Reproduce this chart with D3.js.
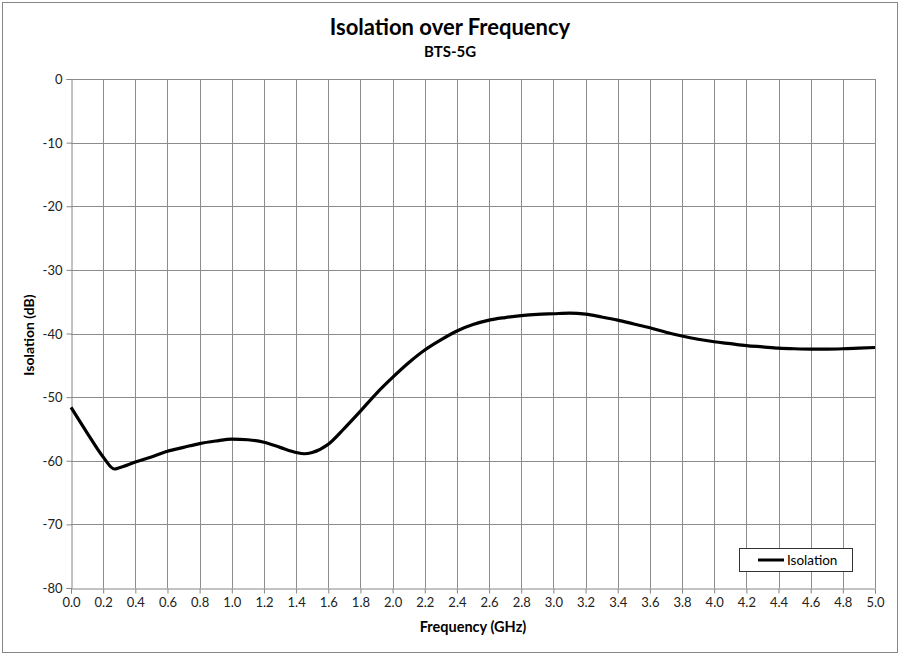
<!DOCTYPE html>
<html>
<head>
<meta charset="utf-8">
<script src="https://cdn.jsdelivr.net/npm/d3@7"></script>
<style>
  body { margin: 0; background: #fff; }
  text { font-family: Lato, "Open Sans", sans-serif; }
</style>
</head>
<body>
<div id="chart"></div>
<script>
"use strict";

// frequency (GHz) and isolation (dB)
const freq = [0.0, 0.1, 0.2, 0.27, 0.3, 0.4, 0.5, 0.6, 0.7, 0.8, 0.9, 1.0, 1.1, 1.2, 1.3, 1.4, 1.45, 1.5, 1.6, 1.7, 1.8, 1.9,
  2.0, 2.1, 2.2, 2.3, 2.4, 2.5, 2.6, 2.7, 2.8, 2.9, 3.0, 3.1, 3.2, 3.3, 3.4, 3.5, 3.6, 3.7, 3.8, 3.9,
  4.0, 4.1, 4.2, 4.3, 4.4, 4.5, 4.6, 4.7, 4.8, 4.9, 5.0];
const isolation = [-51.6, -55.6, -59.4, -61.3, -61.1, -60.2, -59.4, -58.5, -57.9, -57.3, -56.9, -56.6, -56.7, -57.1, -57.9, -58.7, -58.9, -58.7, -57.4, -54.9, -52.2, -49.4,
  -46.9, -44.6, -42.6, -41.0, -39.6, -38.6, -37.9, -37.5, -37.2, -37.0, -36.9, -36.8, -36.95, -37.4, -37.9, -38.5, -39.1, -39.8, -40.4, -40.9,
  -41.3, -41.6, -41.9, -42.1, -42.3, -42.4, -42.45, -42.45, -42.4, -42.3, -42.2];
const xTicks = d3.range(0, 26).map(i => i * 0.2);
const yTicks = [0, -10, -20, -30, -40, -50, -60, -70, -80];

const width = 899, height = 656;
const plot = { left: 71, right: 875, top: 79, bottom: 588 };

const svg = d3.select("#chart").append("svg")
  .attr("width", width)
  .attr("height", height);

// outer frame
svg.append("rect")
  .attr("x", 2.5).attr("y", 2.5)
  .attr("width", 895).attr("height", 650)
  .attr("fill", "#fff")
  .attr("stroke", "#868686");

const x = d3.scaleLinear().domain([0, 5]).range([plot.left, plot.right]);
const y = d3.scaleLinear().domain([-80, 0]).range([plot.bottom, plot.top]);

// grid
svg.append("g")
  .selectAll("line.v")
  .data(xTicks.slice(1))
  .enter().append("line")
  .attr("x1", d => Math.round(x(d)) + 0.5).attr("x2", d => Math.round(x(d)) + 0.5)
  .attr("y1", plot.top).attr("y2", plot.bottom)
  .attr("stroke", "#8c8c8c");

svg.append("g")
  .selectAll("line.h")
  .data(yTicks.slice(0, -1))
  .enter().append("line")
  .attr("x1", plot.left).attr("x2", plot.right)
  .attr("y1", d => Math.round(y(d)) + 0.5).attr("y2", d => Math.round(y(d)) + 0.5)
  .attr("stroke", "#8c8c8c");

// axes
const xAxis = svg.append("g")
  .attr("transform", "translate(0," + (plot.bottom + 0.5) + ")")
  .call(d3.axisBottom(x).tickValues(xTicks).tickFormat(d3.format(".1f")).tickSize(5).tickPadding(4));

const yAxis = svg.append("g")
  .attr("transform", "translate(" + (plot.left + 0.5) + ",0)")
  .call(d3.axisLeft(y).tickValues(yTicks).tickSize(5).tickPadding(4).tickFormat(d => d));

[xAxis, yAxis].forEach(function (a) {
  a.select(".domain").attr("stroke", "#868686");
  a.selectAll(".tick line").attr("stroke", "#868686");
  a.selectAll(".tick text")
    .attr("fill", "#222")
    .style("font-family", "Lato, sans-serif")
    .style("font-size", "13px");
});
yAxis.selectAll(".tick text").attr("dy", "0.35em");

// data line
const line = d3.line()
  .x((d, i) => x(freq[i]))
  .y(d => y(d))
  .curve(d3.curveMonotoneX);

svg.append("path")
  .datum(isolation)
  .attr("d", line)
  .attr("fill", "none")
  .attr("stroke", "#000")
  .attr("stroke-width", 3.2)
  .attr("stroke-linejoin", "round");

// titles
svg.append("text")
  .attr("x", 450).attr("y", 35)
  .attr("text-anchor", "middle")
  .style("font-size", "22px").style("font-weight", "bold")
  .text("Isolation over Frequency");

svg.append("text")
  .attr("x", 450).attr("y", 57)
  .attr("text-anchor", "middle")
  .style("font-size", "15px").style("font-weight", "bold")
  .text("BTS-5G");

svg.append("text")
  .attr("x", 473).attr("y", 632)
  .attr("text-anchor", "middle")
  .style("font-size", "14.5px").style("font-weight", "bold")
  .text("Frequency (GHz)");

svg.append("text")
  .attr("transform", "translate(34,335) rotate(-90)")
  .attr("text-anchor", "middle")
  .style("font-size", "14px").style("font-weight", "bold")
  .text("Isolation (dB)");

// legend
const legend = svg.append("g");
legend.append("rect")
  .attr("x", 739.5).attr("y", 548.5)
  .attr("width", 113).attr("height", 23)
  .attr("fill", "#fff")
  .attr("stroke", "#333");
legend.append("line")
  .attr("x1", 758).attr("x2", 784)
  .attr("y1", 560).attr("y2", 560)
  .attr("stroke", "#000").attr("stroke-width", 3);
legend.append("text")
  .attr("x", 787).attr("y", 564.5)
  .style("font-size", "13.5px")
  .text("Isolation");
</script>
</body>
</html>
